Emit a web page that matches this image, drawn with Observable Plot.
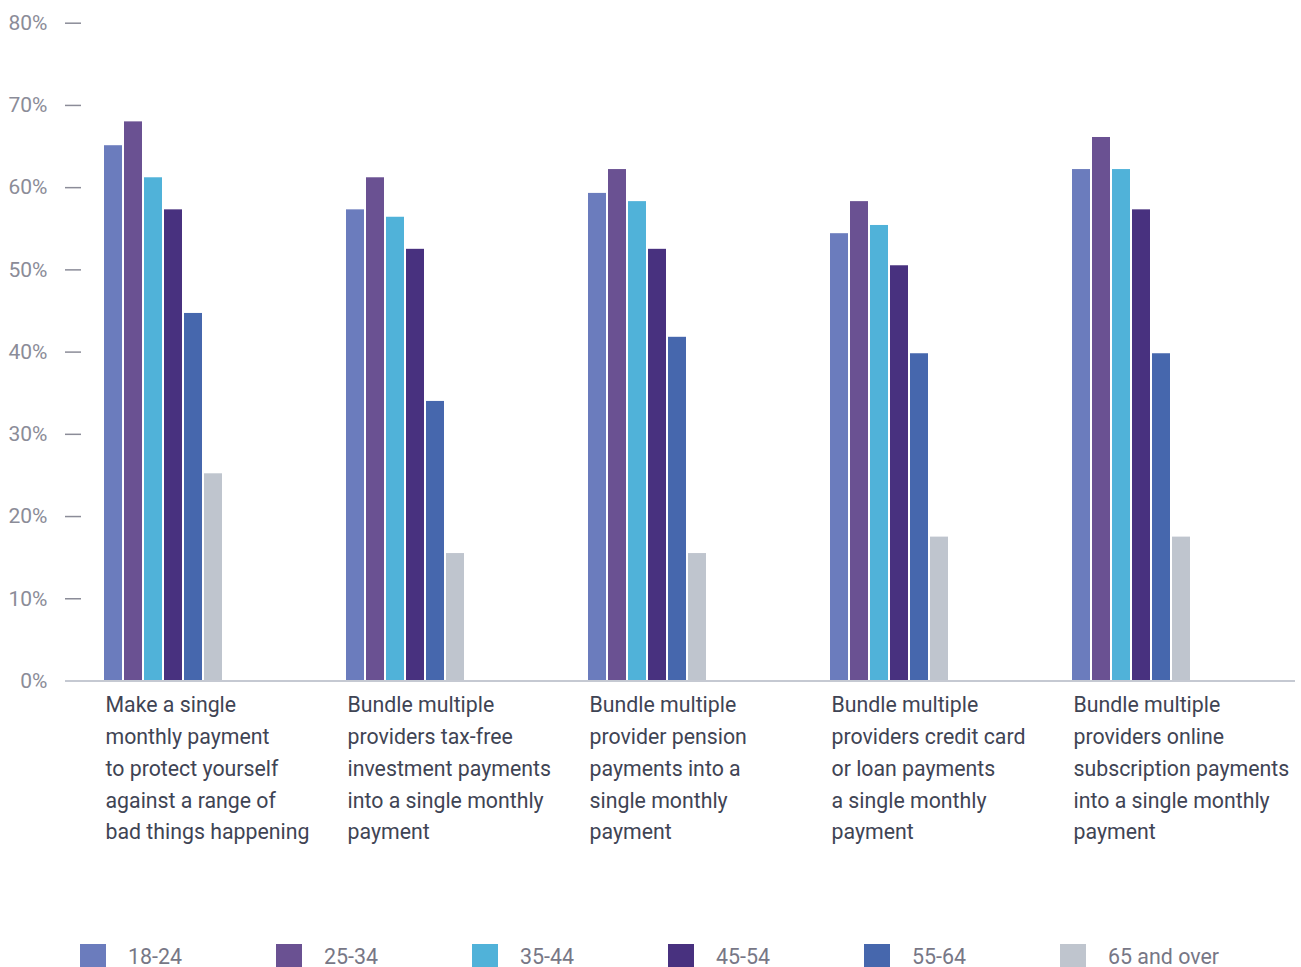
<!DOCTYPE html>
<html><head><meta charset="utf-8">
<script src="https://cdn.jsdelivr.net/npm/d3@7"></script>
<script src="https://cdn.jsdelivr.net/npm/@observablehq/plot@0.6"></script>
<style>
body{margin:0;background:#fff;font-family:Roboto,sans-serif;}
#legend{display:flex;margin-top:24px;padding-left:80px;}
.item{width:196px;display:flex;align-items:center;font-size:21.4px;color:#777786;height:25px;line-height:25px;}
.sw{width:26px;height:25px;margin-right:22px;flex:none;}
g[aria-label="y-axis tick"]{stroke:#d2d5dc;stroke-width:1.5px;}
</style></head><body><div id="chart"></div><div id="legend"></div>
<script>
const categories = [
  "Make a single monthly payment to protect yourself against a range of bad things happening",
  "Bundle multiple providers tax-free investment payments into a single monthly payment",
  "Bundle multiple provider pension payments into a single monthly payment",
  "Bundle multiple providers credit card or loan payments a single monthly payment",
  "Bundle multiple providers online subscription payments into a single monthly payment"
];
const categoryLabels = [
  "Make a single\nmonthly payment\nto protect yourself\nagainst a range of\nbad things happening",
  "Bundle multiple\nproviders tax-free\ninvestment payments\ninto a single monthly\npayment",
  "Bundle multiple\nprovider pension\npayments into a\nsingle monthly\npayment",
  "Bundle multiple\nproviders credit card\nor loan payments\na single monthly\npayment",
  "Bundle multiple\nproviders online\nsubscription payments\ninto a single monthly\npayment"
];
const ageGroups = ["18-24", "25-34", "35-44", "45-54", "55-64", "65 and over"];
const colors = ["#6b7cbd", "#6a5192", "#50b2d9", "#48317f", "#4667ad", "#bfc5ce"];
const s18_24 = [65.1, 57.3, 59.3, 54.4, 62.2];
const s25_34 = [68.0, 61.2, 62.2, 58.3, 66.1];
const s35_44 = [61.2, 56.4, 58.3, 55.4, 62.2];
const s45_54 = [57.3, 52.5, 52.5, 50.5, 57.3];
const s55_64 = [44.7, 34.0, 41.8, 39.8, 39.8];
const s65plus = [25.2, 15.5, 15.5, 17.5, 17.5];
const yTicks = [0, 10, 20, 30, 40, 50, 60, 70, 80];

const series = [s18_24, s25_34, s35_44, s45_54, s55_64, s65plus];
const data = [];
categories.forEach((c, i) => ageGroups.forEach((a, j) => data.push({category: c, age: a, value: series[j][i]})));

const chart = Plot.plot({
  width: 1301, height: 920,
  marginLeft: 80, marginRight: 10, marginTop: 22.7, marginBottom: 239.5,
  style: {fontFamily: "Roboto", fontSize: "21px", background: "white"},
  fx: {domain: categories, padding: 0, label: null},
  x: {domain: ageGroups, axis: null, paddingInner: 0.1, paddingOuter: 0, insetLeft: 23, insetRight: 100, align: 0},
  y: {domain: [0, 80], axis: null},
  color: {domain: ageGroups, range: colors},
  marks: [
    Plot.axisY({ticks: yTicks, tickSize: 16, tickPadding: 18, tickFormat: d => d + "%", color: "#8b8c98", fontSize: 21, label: null}),
    Plot.axisFx({anchor: "bottom", tickSize: 0, tickPadding: 8, textAnchor: "start", dx: -97, lineAnchor: "top", lineHeight: 1.5,
      tickFormat: c => categoryLabels[categories.indexOf(c)], color: "#3f4454", fontSize: 21.3, label: null}),
    Plot.barY(data, {fx: "category", x: "age", y: "value", fill: "age"}),
    Plot.ruleY([0], {stroke: "#c5c9d2", strokeWidth: 1.5, insetLeft: -16, insetRight: -4, shapeRendering: "crispEdges"})
  ]
});
document.getElementById("chart").appendChild(chart);

const legend = document.getElementById("legend");
ageGroups.forEach((a, i) => {
  const item = document.createElement("div");
  item.className = "item";
  const sw = document.createElement("span");
  sw.className = "sw";
  sw.style.background = colors[i];
  item.appendChild(sw);
  item.appendChild(document.createTextNode(a));
  legend.appendChild(item);
});
</script>
</body></html>
